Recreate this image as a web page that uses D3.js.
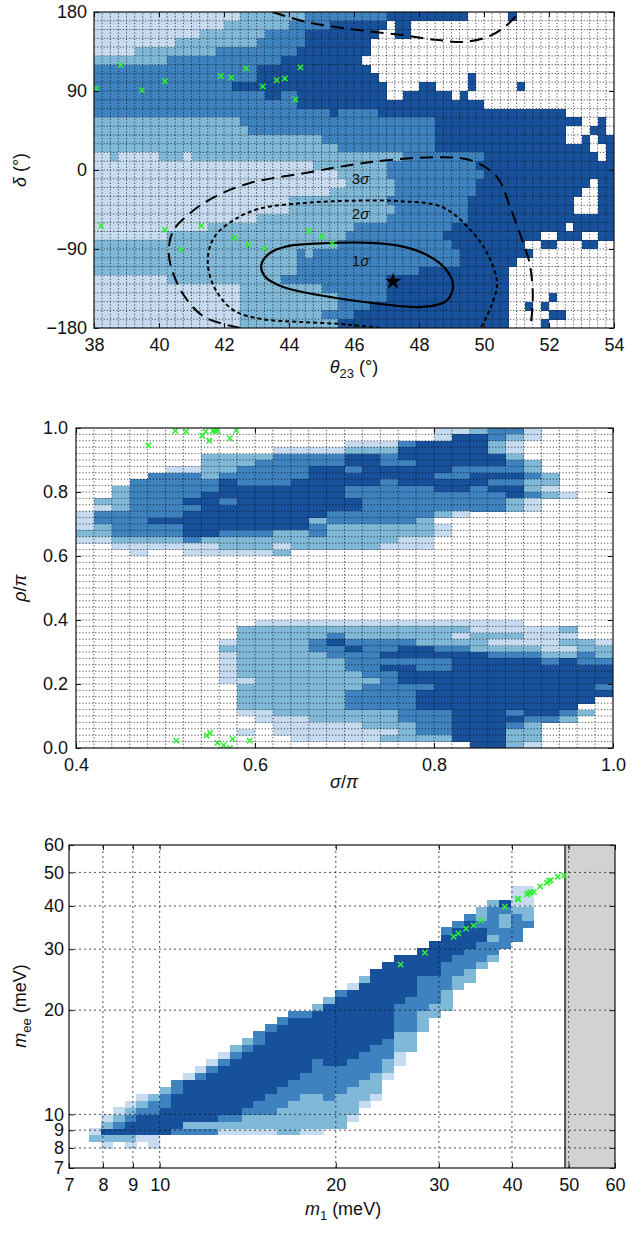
<!doctype html>
<html lang="en">
<head>
<meta charset="utf-8">
<title>theta23-delta, sigma-rho, m1-mee scans</title>
<script src="https://cdn.jsdelivr.net/npm/d3@7"></script>
<style>
body { margin: 0; background: #fff; }
text { font-family: "Liberation Sans", Arial, sans-serif; fill: #111; }
</style>
</head>
<body>
<div id="chart"></div>
<script>

var width = 631;
var height = 1235;

// colour of each density level (0 = empty)
var levelColors = ["none", "#c6dbef", "#80b9d8", "#3e83c0", "#17519b"];

// ---------- panel 1 : theta23 (38..54, 0.25 deg bins) vs delta (180..-180, 10 deg bins)
// one string per row from delta = 180 down, "level x count"
var p1Rows = [
  "1x18 2x8 3x10 4x10 0x5 4x1 0x12",
  "1x16 2x8 3x5 4x7 0x1 4x2 0x25",
  "1x13 2x8 3x5 4x9 0x2 4x2 0x25",
  "1x10 2x10 3x6 4x8 0x30",
  "1x5 2x10 3x10 4x9 0x30",
  "2x9 3x14 4x10 0x31",
  "3x20 4x14 0x30",
  "3x20 4x15 0x11 4x1 0x17",
  "3x17 4x19 0x4 4x2 0x4 4x1 0x5 4x1 0x11",
  "3x21 4x2 3x2 4x11 0x2 4x6 0x1 4x1 0x18",
  "3x25 4x23 0x16",
  "3x29 4x1 3x5 4x23 0x6",
  "2x18 3x24 4x18 0x2 4x1 0x1",
  "2x19 3x23 4x16 0x3 4x2 0x1",
  "2x28 3x14 4x16 0x2 4x1 0x1 4x2",
  "2x30 3x12 4x19 0x2 4x1",
  "1x2 2x1 1x5 2x3 1x1 2x26 3x10 4x14 0x1 4x1",
  "1x27 2x9 3x11 4x17",
  "1x30 2x6 3x12 4x16",
  "1x31 2x6 3x10 4x14 0x1 4x2",
  "1x29 2x8 3x10 4x13 0x2 4x2",
  "1x24 2x12 3x10 4x13 0x3 4x2",
  "1x24 2x13 3x9 4x13 0x3 4x2",
  "1x20 2x16 3x10 4x18",
  "1x14 2x18 3x12 4x14 0x1 4x5",
  "1x9 2x22 3x12 4x12 0x2 4x3 0x2 4x2",
  "2x30 3x14 4x9 0x2 4x2 0x3 4x2 0x2",
  "2x25 3x1 2x1 3x18 4x9 0x10",
  "2x25 3x20 4x7 0x12",
  "2x25 3x15 4x11 0x13",
  "1x9 2x14 3x13 4x15 0x13",
  "1x18 2x10 3x8 4x15 0x13",
  "1x18 2x12 3x6 4x15 0x5 4x1 0x7",
  "1x18 2x12 3x4 4x17 0x2 4x1 0x1 4x1 0x8",
  "1x18 2x10 3x4 4x19 0x5 4x2 0x6",
  "1x18 2x12 4x21 0x4 4x1 0x8"
];
var p1XTicks = [38, 40, 42, 44, 46, 48, 50, 52, 54];
var p1YTicks = [-180, -90, 0, 90, 180];

// points with good fits (green crosses)
var p1Marks = [
  [38.06, 93], [38.82, 119.5], [39.47, 91], [40.18, 101], [41.9, 107], [42.22, 105.4],
  [42.68, 115.7], [43.19, 95.2], [43.62, 102.4], [43.87, 104.3], [44.2, 80.3], [44.35, 116.9],
  [38.22, -63.5], [40.18, -68.1], [40.68, -90.6], [41.3, -63.5], [42.32, -77.2], [42.74, -85.2],
  [43.25, -89.4], [44.6, -69.6], [45.02, -75.7], [45.33, -84]
];

// global fit contours
var sigma1 = [
  [43.15, -108], [43.4, -95], [44.0, -86.5], [45.0, -83.5], [46.5, -83], [47.4, -86.5],
  [48.2, -96], [48.8, -112], [49.05, -131], [48.85, -149], [48.1, -156], [46.8, -152.5],
  [45.0, -143], [43.8, -133], [43.25, -121]
];
var sigma2 = [
  [46.8, -180], [45.6, -175.5], [44.3, -173], [43.2, -170], [42.3, -160], [41.7, -133.5],
  [41.5, -103], [41.7, -76.5], [42.3, -57], [43.1, -44], [44.5, -37.5], [45.9, -35],
  [47.4, -35.5], [48.7, -42], [49.5, -65], [50.1, -95], [50.4, -129], [50.2, -157], [49.9, -180]
];
var sigma3Low = [
  [42.5, -180], [41.4, -167.5], [40.8, -144.7], [40.4, -113.9], [40.3, -91.1], [40.45, -68.3],
  [41.0, -47.8], [41.7, -30.8], [42.8, -14.8], [44.5, -3.4], [45.9, 5.7], [47.0, 11],
  [48.5, 14.5], [49.6, 11], [50.4, -8], [50.8, -42], [51.1, -72], [51.4, -106],
  [51.5, -141], [51.45, -172], [51.4, -180]
];
var sigma3High = [
  [43.5, 180], [44.5, 169], [46.0, 160], [47.4, 154], [48.6, 148], [49.4, 146],
  [50.2, 153], [50.7, 165], [51.1, 180]
];
var sigmaLabels = [["3", 46.2, -9.5], ["2", 46.2, -49.5], ["1", 46.2, -103]];
var bestFit = [47.2, -127];

// ---------- panel 2 : sigma/pi (0.4..1.0, 0.02 bins) vs rho/pi (1.0..0.0, 0.02 bins)
var p2Rows = [
  "0x20 1x2 2x1 3x2 1x1 0x4",
  "0x20 1x1 4x2 3x1 2x1 1x1 0x4",
  "0x15 1x3 3x1 4x4 2x1 1x1 0x5",
  "0x11 1x4 2x3 4x5 2x1 1x1 0x5",
  "0x7 2x4 3x4 4x2 3x1 4x6 2x1 0x5",
  "0x7 2x3 3x5 4x2 3x2 4x5 3x1 2x1 0x4",
  "0x5 1x2 2x2 3x4 4x2 3x1 4x5 3x4 2x1 0x4",
  "0x4 3x3 2x1 3x5 4x7 3x2 4x3 3x1 2x1 0x3",
  "0x3 3x5 4x1 3x3 4x5 3x1 4x5 3x2 2x2 0x3",
  "0x2 2x1 3x5 4x7 3x5 4x2 3x1 4x2 2x1 1x1 0x3",
  "0x2 2x1 3x4 4x8 3x9 4x1 3x1 2x1 1x1 0x2",
  "0x1 2x2 3x3 4x2 3x1 4x7 3x8 2x1 1x1 0x4",
  "0x1 1x1 2x1 3x4 4x9 3x8 2x1 1x1 0x4",
  "1x1 3x5 4x8 3x6 2x1 1x1 0x8",
  "1x1 3x3 4x9 2x1 3x5 2x1 0x10",
  "1x1 2x1 3x4 4x7 3x1 2x6 1x1 0x9",
  "2x2 3x4 4x2 3x3 2x2 3x1 2x6 1x1 0x9",
  "1x2 2x4 3x1 2x5 2x6 1x2 0x10",
  "0x2 1x6 2x3 1x1 2x5 1x3 0x10",
  "0x3 1x1 0x2 1x5 2x1 0x18",
  "0x30", "0x30", "0x30", "0x30", "0x30", "0x30", "0x30", "0x30", "0x30", "0x30",
  "0x10 1x15 0x5",
  "0x9 2x13 1x5 2x1 0x2",
  "0x9 2x5 3x1 2x6 1x1 2x3 1x3 0x2",
  "0x8 1x1 2x4 3x1 4x1 3x4 2x4 1x4 2x2 1x1",
  "0x8 2x5 3x2 4x1 3x2 4x2 3x2 2x4 1x2 2x2",
  "0x8 1x1 2x5 3x3 4x6 3x3 2x2 3x1 2x1",
  "0x8 1x1 2x6 3x6 4x5 3x1 4x1 3x2",
  "0x8 1x1 2x6 3x2 4x2 3x2 4x9",
  "0x8 1x1 2x7 3x2 4x12",
  "0x8 1x2 2x7 3x1 4x12",
  "0x9 2x7 3x4 4x9 3x1",
  "0x9 2x6 3x4 4x11",
  "0x9 2x6 3x4 4x10 0x1",
  "0x9 2x6 3x4 4x9 0x2",
  "0x9 1x2 2x7 3x3 4x3 3x1 4x2 3x1 2x1 0x1",
  "0x10 1x3 2x5 3x3 4x4 3x2 2x1 0x2",
  "0x11 1x5 2x3 3x2 4x3 3x1 2x1 0x4",
  "0x9 1x1 0x1 1x7 2x1 3x2 4x3 2x2 0x4",
  "0x12 1x5 2x4 4x3 2x2 0x4",
  "0x22 4x2 2x1 1x1 0x4"
];
var p2XTicks = [0.4, 0.6, 0.8, 1.0];
var p2YTicks = [0, 0.2, 0.4, 0.6, 0.8, 1.0];
var p2Marks = [
  [0.511, 0.991], [0.523, 0.989], [0.541, 0.976], [0.545, 0.989], [0.549, 0.960], [0.553, 0.991],
  [0.556, 0.990], [0.558, 0.993], [0.572, 0.968], [0.579, 0.993], [0.481, 0.945],
  [0.512, 0.023], [0.546, 0.039], [0.550, 0.047], [0.558, 0.016], [0.565, 0.009], [0.572, 0.0],
  [0.575, 0.028], [0.594, 0.023]
];

// ---------- panel 3 : m1 vs mee, log10 bins of 0.02 (m1 from 10^0.88, mee from 10^0.90)
// one string per m1 column: "first mee bin : levels upward"
var p3Cols = [
  "1:21",
  "0:12421",
  "1:24321",
  "0:1244321",
  "1:1444321",
  "0:11444332",
  "2:4444332",
  "2:34444433",
  "2:324444441",
  "2:3244444431",
  "2:32444444431",
  "2:123444444431",
  "2:1234444444432",
  "2:12234444444432",
  "2:122334444444433",
  "2:1223334444444443",
  "2:22223334444444443",
  "2:222223334444444443",
  "2:122222333444444443",
  "2:1222223333344444442",
  "3:2222333334444444442",
  "3:22222333344444444443",
  "4:12222333344444444441",
  "6:1222333344444444442",
  "7:1222333344444444444",
  "10:12233344444444444",
  "12:1122233334444444",
  "14:22233333444444",
  "17:222333334444",
  "19:22333344444",
  "20:222333344443",
  "23:2233344443",
  "24:2233344443",
  "26:233344322",
  "27:233233332",
  "29:3332234",
  "30:33332111",
  "32:322111"
];
var p3Ticks = [7, 8, 9, 10, 20, 30, 40, 50, 60];
var p3Grid = [8, 9, 10, 20, 30, 40, 50];
var p3Excluded = [49.3, 60];
var p3Marks = [
  [25.8, 27.1], [28.4, 29.3], [31.8, 32.6], [32.4, 33.3], [33.4, 34.4], [34.4, 35.1],
  [35.4, 36.3], [38.9, 39.8], [40.9, 42.0], [41.0, 41.8], [42.4, 43.2], [42.7, 43.5],
  [43.1, 43.8], [43.6, 43.9], [44.7, 45.5], [45.9, 46.7], [46.3, 47.2], [46.6, 47.5],
  [47.9, 48.6], [49.1, 49.0]
];

// ---------- helpers
function decodeRow(s) {
  var out = [];
  s.split(" ").forEach(function(tok) {
    var p = tok.split("x");
    for (var i = 0; i < +p[1]; i++) out.push(+p[0]);
  });
  return out;
}

var svg = d3.select("#chart").append("svg")
    .attr("width", width)
    .attr("height", height);

function clipFor(id, xs, ys) {
  var r = [xs.range(), ys.range()];
  svg.append("clipPath").attr("id", id).append("rect")
    .attr("x", r[0][0]).attr("y", r[1][1])
    .attr("width", r[0][1] - r[0][0]).attr("height", r[1][0] - r[1][1]);
  return svg.append("g").attr("clip-path", "url(#" + id + ")");
}

function drawCells(g, cells, xs, ys) {
  g.selectAll("rect.cell").data(cells).enter().append("rect")
    .attr("class", "cell")
    .attr("x", function(d) { return xs(d.x0); })
    .attr("y", function(d) { return ys(d.y1); })
    .attr("width", function(d) { return xs(d.x1) - xs(d.x0) + 0.3; })
    .attr("height", function(d) { return ys(d.y0) - ys(d.y1) + 0.3; })
    .attr("fill", function(d) { return levelColors[d.v]; })
    .attr("shape-rendering", "crispEdges");
}

function drawGrid(g, xs, ys, xv, yv, dash) {
  var xr = xs.range(), yr = ys.range();
  g.selectAll("line.gx").data(xv).enter().append("line")
    .attr("x1", function(d) { return xs(d); }).attr("x2", function(d) { return xs(d); })
    .attr("y1", yr[0]).attr("y2", yr[1]);
  g.selectAll("line.gy").data(yv).enter().append("line")
    .attr("y1", function(d) { return ys(d); }).attr("y2", function(d) { return ys(d); })
    .attr("x1", xr[0]).attr("x2", xr[1]);
  g.selectAll("line")
    .attr("stroke", "#111").attr("stroke-width", 0.9)
    .attr("stroke-dasharray", dash).attr("opacity", 0.8);
}

function drawMarks(g, pts, xs, ys) {
  g.selectAll("path.mark").data(pts).enter().append("path")
    .attr("class", "mark")
    .attr("transform", function(d) { return "translate(" + xs(d[0]) + "," + ys(d[1]) + ")"; })
    .attr("d", "M-2.7,-2.7L2.7,2.7M-2.7,2.7L2.7,-2.7")
    .attr("stroke", "#2ef02e").attr("stroke-width", 1.5).attr("fill", "none");
}

function drawFrame(xs, ys, xTicks, yTicks, xFmt, yFmt, yPad) {
  var xr = xs.range(), yr = ys.range();
  var axes = [
    [d3.axisBottom(xs).tickValues(xTicks).tickFormat(xFmt).tickPadding(10), "translate(0," + yr[0] + ")"],
    [d3.axisTop(xs).tickValues(xTicks).tickFormat(""), "translate(0," + yr[1] + ")"],
    [d3.axisLeft(ys).tickValues(yTicks).tickFormat(yFmt).tickPadding(yPad), "translate(" + xr[0] + ",0)"],
    [d3.axisRight(ys).tickValues(yTicks).tickFormat(""), "translate(" + xr[1] + ",0)"]
  ];
  axes.forEach(function(a) {
    var g = svg.append("g").attr("transform", a[1])
      .call(a[0].tickSizeInner(-5).tickSizeOuter(0));
    g.select(".domain").remove();
    g.selectAll(".tick line").attr("stroke", "#111").attr("stroke-width", 1);
    g.selectAll("text").attr("font-size", 18).attr("font-family", "Liberation Sans, Arial, sans-serif").attr("fill", "#111");
  });
  svg.append("rect")
    .attr("x", xr[0]).attr("y", yr[1])
    .attr("width", xr[1] - xr[0]).attr("height", yr[0] - yr[1])
    .attr("fill", "none").attr("stroke", "#111").attr("stroke-width", 1.2);
}

function axisLabel(x, y, rotate, parts) {
  var t = svg.append("text")
    .attr("transform", "translate(" + x + "," + y + ")" + (rotate ? " rotate(-90)" : ""))
    .attr("text-anchor", "middle")
    .attr("font-size", 18);
  parts.forEach(function(p) {
    var s = t.append("tspan").text(p[0]);
    if (p[1] == "i") s.attr("font-style", "italic");
    if (p[1] == "sub") s.attr("font-size", 13).attr("dy", 5);
    if (p[1] == "up") s.attr("dy", -5);
  });
}

// ================= panel 1
var x1 = d3.scaleLinear().domain([38, 54]).range([94, 614]);
var y1 = d3.scaleLinear().domain([-180, 180]).range([328, 12]);

var cells1 = [];
p1Rows.forEach(function(row, r) {
  decodeRow(row).forEach(function(v, c) {
    if (v) cells1.push({x0: 38 + c * 0.25, x1: 38.25 + c * 0.25, y1: 180 - r * 10, y0: 170 - r * 10, v: v});
  });
});
var g1 = clipFor("clip1", x1, y1);
drawCells(g1, cells1, x1, y1);
drawGrid(g1.append("g"), x1, y1, d3.range(38.25, 54, 0.25), d3.range(-170, 180, 10), "1.2,2");

var line1 = d3.line().x(function(d) { return x1(d[0]); }).y(function(d) { return y1(d[1]); });
g1.append("path").attr("d", line1.curve(d3.curveCatmullRom)(sigma3Low))
  .attr("fill", "none").attr("stroke", "#000").attr("stroke-width", 2).attr("stroke-dasharray", "13,7");
g1.append("path").attr("d", line1.curve(d3.curveCatmullRom)(sigma3High))
  .attr("fill", "none").attr("stroke", "#000").attr("stroke-width", 2).attr("stroke-dasharray", "13,7");
g1.append("path").attr("d", line1.curve(d3.curveCatmullRom)(sigma2))
  .attr("fill", "none").attr("stroke", "#000").attr("stroke-width", 2).attr("stroke-dasharray", "4,3");
g1.append("path").attr("d", line1.curve(d3.curveCatmullRomClosed)(sigma1))
  .attr("fill", "none").attr("stroke", "#000").attr("stroke-width", 2.2);

sigmaLabels.forEach(function(l) {
  var t = g1.append("text").attr("x", x1(l[1])).attr("y", y1(l[2]))
    .attr("text-anchor", "middle").attr("dy", "0.35em").attr("font-size", 15).attr("fill", "#222");
  t.append("tspan").text(l[0]);
  t.append("tspan").attr("font-style", "italic").text("\u03c3");
});
g1.append("path")
  .attr("transform", "translate(" + x1(bestFit[0]) + "," + y1(bestFit[1]) + ")")
  .attr("d", d3.symbol(d3.symbolStar).size(90)).attr("fill", "#000");
drawMarks(g1, p1Marks, x1, y1);
drawFrame(x1, y1, p1XTicks, p1YTicks, d3.format("d"), d3.format("d"), 7);
axisLabel(354, 373, false, [["\u03b8", "i"], ["23", "sub"], [" (\u00b0)", "up"]]);
axisLabel(26, 170, true, [["\u03b4", "i"], [" (\u00b0)"]]);

// ================= panel 2
var x2 = d3.scaleLinear().domain([0.4, 1.0]).range([76, 613]);
var y2 = d3.scaleLinear().domain([0, 1]).range([748, 428]);

var cells2 = [];
p2Rows.forEach(function(row, r) {
  decodeRow(row).forEach(function(v, c) {
    if (v) cells2.push({x0: 0.4 + c * 0.02, x1: 0.42 + c * 0.02, y1: 1 - r * 0.02, y0: 0.98 - r * 0.02, v: v});
  });
});
var g2 = clipFor("clip2", x2, y2);
drawCells(g2, cells2, x2, y2);
drawGrid(g2.append("g"), x2, y2, d3.range(1, 30).map(function(i) { return 0.4 + i * 0.02; }),
  d3.range(1, 50).map(function(i) { return i * 0.02; }), "1.2,2");
drawMarks(g2, p2Marks, x2, y2);
drawFrame(x2, y2, p2XTicks, p2YTicks, d3.format(".1f"), d3.format(".1f"), 8);
axisLabel(344, 788, false, [["\u03c3", "i"], ["/"], ["\u03c0", "i"]]);
axisLabel(26, 588, true, [["\u03c1", "i"], ["/"], ["\u03c0", "i"]]);

// ================= panel 3
var x3 = d3.scaleLog().domain([7, 60]).range([69, 615]);
var y3 = d3.scaleLog().domain([7, 60]).range([1168, 845]);

var cells3 = [];
p3Cols.forEach(function(col, k) {
  var parts = col.split(":"), j0 = +parts[0];
  parts[1].split("").forEach(function(ch, i) {
    var j = j0 + i;
    if (+ch) cells3.push({
      x0: Math.pow(10, 0.88 + k * 0.02), x1: Math.pow(10, 0.90 + k * 0.02),
      y0: Math.pow(10, 0.90 + j * 0.02), y1: Math.pow(10, 0.92 + j * 0.02), v: +ch
    });
  });
});
var g3 = clipFor("clip3", x3, y3);
drawCells(g3, cells3, x3, y3);
g3.append("rect")
  .attr("x", x3(p3Excluded[0])).attr("y", y3(60))
  .attr("width", x3(p3Excluded[1]) - x3(p3Excluded[0])).attr("height", y3(7) - y3(60))
  .attr("fill", "#d2d2d2");
g3.append("line")
  .attr("x1", x3(p3Excluded[0])).attr("x2", x3(p3Excluded[0]))
  .attr("y1", y3(7)).attr("y2", y3(60))
  .attr("stroke", "#555").attr("stroke-width", 2);
drawGrid(g3.append("g"), x3, y3, p3Grid, p3Grid, "2,3");
drawMarks(g3, p3Marks, x3, y3);
drawFrame(x3, y3, p3Ticks, p3Ticks, d3.format("d"), d3.format("d"), 5);
axisLabel(343, 1215, false, [["m", "i"], ["1", "sub"], [" (meV)", "up"]]);
axisLabel(26, 1006, true, [["m", "i"], ["ee", "sub"], [" (meV)", "up"]]);

</script>
</body>
</html>
